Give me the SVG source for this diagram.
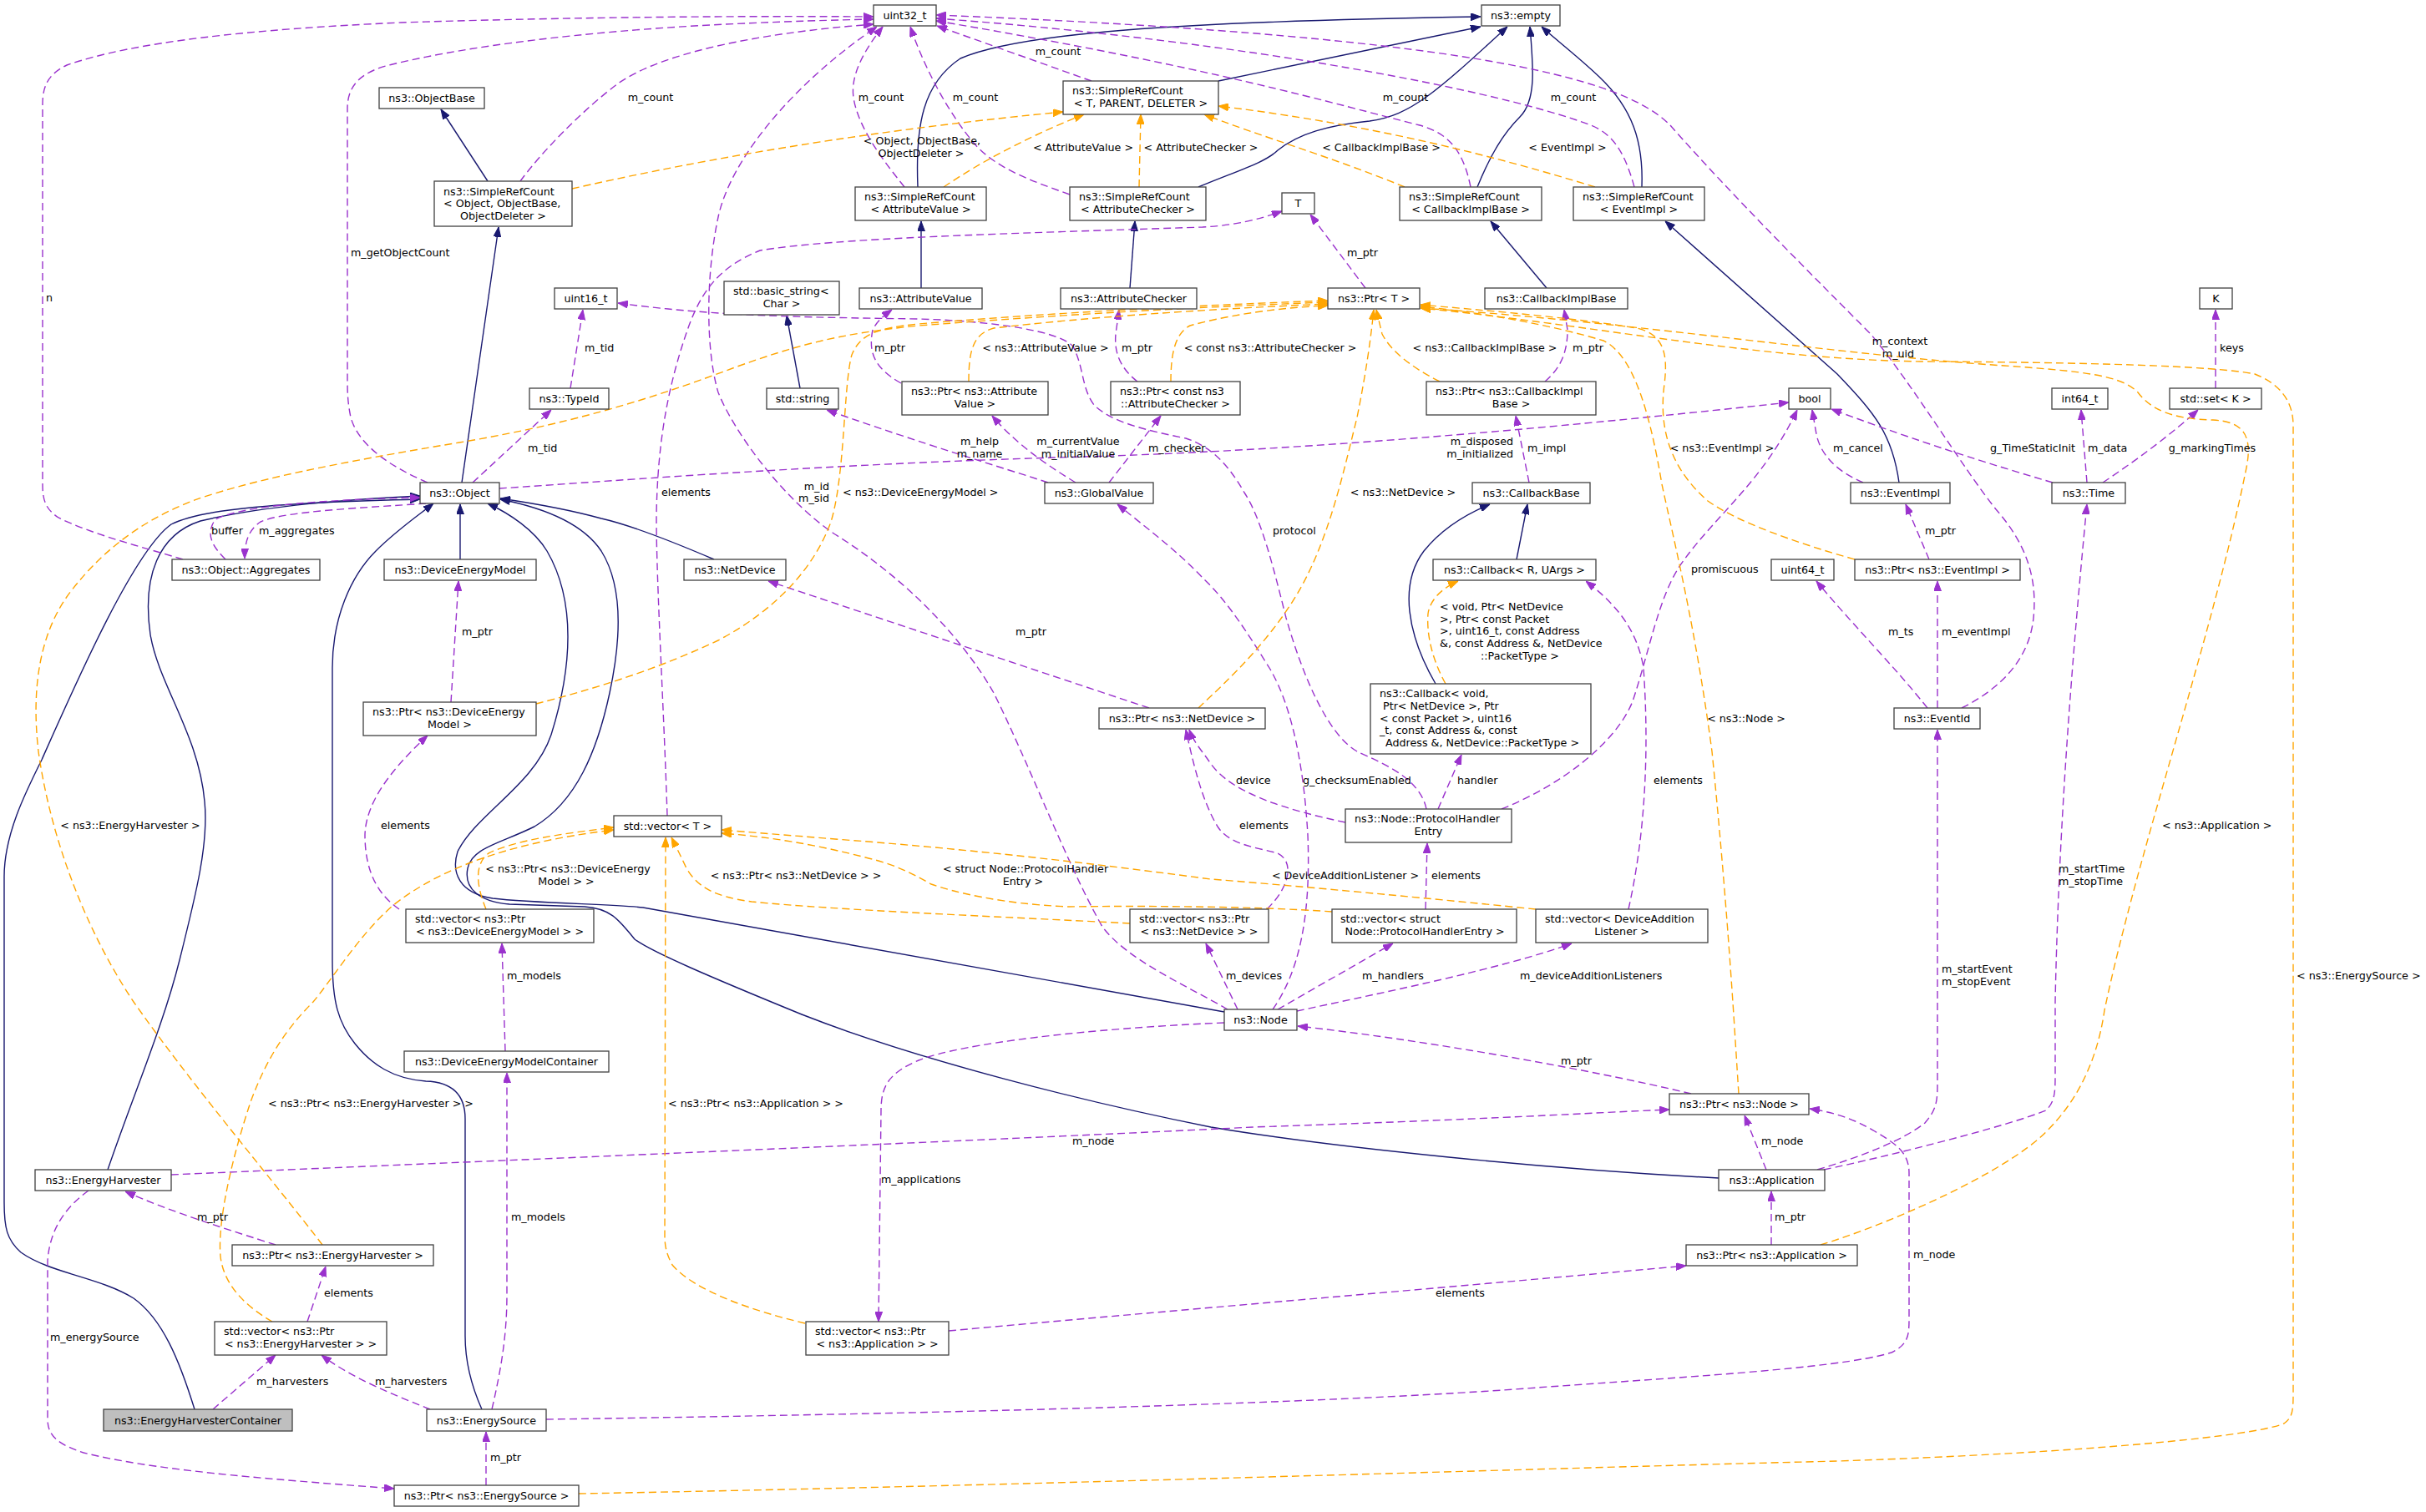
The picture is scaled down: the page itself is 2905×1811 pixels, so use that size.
<svg xmlns="http://www.w3.org/2000/svg" width="2905" height="1811" viewBox="0 0 2905 1811">
<style>
.node rect{fill:#fff;stroke:#404040;stroke-width:1.3}
.node rect.g{fill:#bfbfbf}
text{font-family:"DejaVu Sans","Liberation Sans",sans-serif;font-size:12.7px;fill:#000}
.c{text-anchor:middle}
.r{text-anchor:end}
.e path{fill:none}
.i{stroke:#191970;stroke-width:1.4;marker-end:url(#ai)}
.u{stroke:#9a32cd;stroke-width:1.4;stroke-dasharray:9,5;marker-end:url(#au)}
.t{stroke:#ffa500;stroke-width:1.4;stroke-dasharray:9,5;marker-end:url(#at)}
</style>
<defs>
<marker id="ai" viewBox="0 0 12 9" refX="12" refY="4.5" markerWidth="12" markerHeight="9" markerUnits="userSpaceOnUse" orient="auto"><path d="M0,0 L12,4.5 L0,9 z" fill="#191970" stroke="#191970" stroke-width="1"/></marker>
<marker id="au" viewBox="0 0 12 9" refX="12" refY="4.5" markerWidth="12" markerHeight="9" markerUnits="userSpaceOnUse" orient="auto"><path d="M0,0 L12,4.5 L0,9 z" fill="#9a32cd" stroke="#9a32cd" stroke-width="1"/></marker>
<marker id="at" viewBox="0 0 12 9" refX="12" refY="4.5" markerWidth="12" markerHeight="9" markerUnits="userSpaceOnUse" orient="auto"><path d="M0,0 L12,4.5 L0,9 z" fill="#ffa500" stroke="#ffa500" stroke-width="1"/></marker>
</defs>
<rect width="2905" height="1811" fill="#fff"/>
<g id="connectors" class="e">
<g id="inheritance">
<path class="i" d="M584,217 L528,131"/>
<path class="i" d="M553,578 L597,272"/>
<path class="i" d="M1099,224 C1096,150 1105,100 1150,70 C1220,40 1400,26 1773,20"/>
<path class="i" d="M1459,97 L1773,32"/>
<path class="i" d="M1435,224 C1480,205 1515,195 1530,180 C1555,160 1590,150 1640,145 C1690,138 1720,110 1805,32"/>
<path class="i" d="M1769,224 C1785,185 1800,160 1820,140 C1840,120 1836,80 1832,32"/>
<path class="i" d="M1966,224 C1968,170 1955,130 1915,92 C1890,68 1860,45 1846,32"/>
<path class="i" d="M1103,345 L1103,265"/>
<path class="i" d="M1353,345 L1359,265"/>
<path class="i" d="M958,465 L942,378"/>
<path class="i" d="M1852,345 L1785,265"/>
<path class="i" d="M2274,578 C2266,520 2245,495 2200,448 L1994,265"/>
<path class="i" d="M1816,670 L1829,604"/>
<path class="i" d="M1719,819 C1685,760 1675,700 1705,660 C1725,635 1750,618 1784,604"/>
<path class="i" d="M551,670 L551,604"/>
<path class="i" d="M855,670 C820,655 760,630 720,621 C680,610 640,603 599,597"/>
<path class="i" d="M129,1401 C160,1310 195,1230 215,1150 C235,1070 250,1010 245,960 C238,880 190,820 180,760 C170,690 190,640 240,624 C320,605 420,598 503,594"/>
<path class="i" d="M233,1688 C215,1630 195,1580 160,1555 C120,1530 60,1525 25,1500 C8,1485 5,1470 5,1440 L5,1050 C5,1000 30,950 50,910 C90,820 160,660 205,628 C240,610 330,602 503,598"/>
<path class="i" d="M577,1688 C560,1650 557,1620 557,1600 L557,1340 C557,1310 540,1296 510,1295 C470,1292 445,1275 425,1250 C405,1225 398,1200 398,1150 L398,800 C398,740 420,690 450,660 C475,635 500,618 519,603"/>
<path class="i" d="M1466,1212 L770,1087 C740,1083 640,1082 590,1076 C550,1070 540,1045 548,1020 C570,975 640,940 660,880 C685,800 690,720 655,660 C640,635 610,615 584,603"/>
<path class="i" d="M2058,1411 C1850,1400 1600,1375 1450,1350 C1300,1320 1100,1270 960,1215 C850,1170 780,1140 760,1125 C740,1100 730,1088 700,1086 L610,1083 C575,1080 555,1065 560,1040 C565,1015 600,1010 640,990 C690,960 715,900 730,830 C745,760 745,700 720,660 C700,630 660,610 599,598"/>
</g>
<g id="usage">
<path class="u" d="M219,670 C170,655 110,640 70,620 C55,610 51,600 51,580 L51,125 C51,100 60,88 80,78 C160,50 300,35 480,27 C700,20 900,19 1046,20"/>
<path class="u" d="M512,578 C470,560 430,535 420,500 C416,480 416,470 416,450 L416,130 C416,100 435,85 470,77 C560,55 700,38 850,30 C950,25 1000,24 1046,23"/>
<path class="u" d="M623,217 C650,180 700,130 740,100 C790,65 900,40 1046,29"/>
<path class="u" d="M1083,224 C1060,195 1028,155 1022,117 C1018,90 1035,60 1057,32"/>
<path class="u" d="M1281,233 C1230,215 1190,200 1165,170 C1140,140 1110,90 1090,32"/>
<path class="u" d="M1307,97 L1122,31"/>
<path class="u" d="M1761,224 C1752,180 1735,160 1700,150 C1600,125 1450,80 1121,25"/>
<path class="u" d="M1957,224 C1945,180 1930,160 1905,150 C1800,110 1500,50 1121,22"/>
<path class="u" d="M2349,848 C2395,825 2430,790 2435,740 C2440,690 2425,650 2390,610 C2350,560 2290,460 2240,400 C2180,340 2070,230 2000,150 C1950,100 1800,45 1121,18"/>
<path class="u" d="M799,977 C795,850 786,700 786,620 C787,530 800,460 825,390 C840,350 860,320 910,300 C1000,285 1200,280 1440,272 C1480,270 1510,262 1535,253"/>
<path class="u" d="M1470,1209 C1420,1180 1350,1150 1320,1110 C1280,1040 1230,910 1190,830 C1150,760 1080,690 1000,640 C940,600 880,520 860,470 C845,420 845,330 860,260 C875,190 950,100 1050,32"/>
<path class="u" d="M1079,459 C1045,440 1040,420 1045,395 C1050,385 1058,378 1068,371"/>
<path class="u" d="M1255,578 C1200,560 1100,530 990,491"/>
<path class="u" d="M1288,578 C1250,555 1215,530 1188,498"/>
<path class="u" d="M1328,578 L1390,498"/>
<path class="u" d="M1362,457 C1340,440 1334,420 1336,400 L1340,371"/>
<path class="u" d="M683,465 L698,371"/>
<path class="u" d="M566,578 L660,491"/>
<path class="u" d="M598,585 C750,575 1000,555 1300,547 C1600,538 1900,508 2142,482"/>
<path class="u" d="M510,603 C440,608 340,612 312,625 C297,635 293,650 293,669"/>
<path class="u" d="M270,670 C255,655 245,640 258,622 C290,605 400,598 503,596"/>
<path class="u" d="M540,841 L549,696"/>
<path class="u" d="M478,1089 C450,1070 437,1040 437,1000 C438,960 470,920 512,881"/>
<path class="u" d="M605,1259 L601,1130"/>
<path class="u" d="M589,1688 C600,1640 607,1600 607,1550 L607,1285"/>
<path class="u" d="M330,1491 C280,1475 200,1450 150,1427"/>
<path class="u" d="M368,1583 L390,1517"/>
<path class="u" d="M255,1688 L330,1623"/>
<path class="u" d="M515,1688 C470,1670 420,1650 385,1623"/>
<path class="u" d="M106,1426 C80,1445 60,1470 57,1510 L57,1700 C57,1720 70,1730 100,1740 C180,1760 300,1770 472,1783"/>
<path class="u" d="M582,1779 L582,1715"/>
<path class="u" d="M205,1407 C600,1390 1200,1365 1500,1350 C1800,1340 1900,1333 1999,1329"/>
<path class="u" d="M654,1700 C1000,1695 1500,1685 1800,1665 C2000,1650 2200,1640 2265,1620 C2285,1610 2286,1600 2286,1580 L2286,1405 C2286,1380 2270,1370 2245,1355 C2220,1340 2195,1332 2167,1328"/>
<path class="u" d="M1466,1225 C1300,1232 1150,1250 1100,1270 C1065,1285 1055,1300 1055,1330 L1052,1583"/>
<path class="u" d="M1136,1594 C1400,1570 1700,1545 2019,1516"/>
<path class="u" d="M2025,1310 C1900,1280 1700,1245 1554,1229"/>
<path class="u" d="M2115,1401 L2089,1336"/>
<path class="u" d="M2121,1491 L2121,1427"/>
<path class="u" d="M2176,1401 C2230,1385 2280,1365 2305,1345 C2318,1330 2320,1320 2320,1300 L2320,874"/>
<path class="u" d="M2184,1401 C2260,1385 2400,1350 2450,1330 C2460,1320 2461,1310 2461,1290 L2461,1200 C2465,1000 2480,800 2499,604"/>
<path class="u" d="M2308,848 C2270,800 2220,750 2175,696"/>
<path class="u" d="M2320,848 L2320,696"/>
<path class="u" d="M2310,670 L2282,604"/>
<path class="u" d="M2231,578 C2200,565 2180,545 2175,520 L2170,491"/>
<path class="u" d="M2458,578 C2380,555 2300,530 2193,490"/>
<path class="u" d="M2499,578 L2492,491"/>
<path class="u" d="M2518,578 C2560,550 2600,520 2632,491"/>
<path class="u" d="M2653,465 L2653,371"/>
<path class="u" d="M1798,969 C1870,940 1935,890 1955,840 C1975,780 1985,720 2010,680 C2050,620 2110,580 2152,491"/>
<path class="u" d="M1611,985 C1540,970 1475,950 1450,915 C1440,900 1430,890 1424,874"/>
<path class="u" d="M1722,969 L1750,904"/>
<path class="u" d="M1708,969 C1700,930 1650,912 1625,900 C1590,880 1560,810 1540,740 C1525,680 1510,620 1490,590 C1470,555 1450,535 1420,525 C1370,515 1330,505 1310,485 C1295,465 1298,440 1285,415 C1270,398 1200,385 1100,382 C950,380 850,378 740,363"/>
<path class="u" d="M1950,1089 C1970,1000 1975,900 1968,800 C1960,750 1930,720 1899,696"/>
<path class="u" d="M1482,1209 L1444,1130"/>
<path class="u" d="M1530,1209 L1668,1130"/>
<path class="u" d="M1553,1211 C1650,1190 1800,1160 1882,1130"/>
<path class="u" d="M1707,1089 L1709,1010"/>
<path class="u" d="M1517,1089 C1545,1062 1550,1032 1530,1022 C1505,1015 1472,1012 1458,990 C1440,960 1430,920 1420,874"/>
<path class="u" d="M1376,848 L920,696"/>
<path class="u" d="M1524,1209 C1555,1165 1570,1100 1566,1000 C1562,930 1550,850 1520,800 C1495,760 1470,720 1440,692 C1410,660 1370,630 1338,604"/>
<path class="u" d="M1850,457 C1870,440 1877,420 1877,395 L1873,371"/>
<path class="u" d="M1831,578 L1815,498"/>
<path class="u" d="M1635,345 L1569,257"/>
</g>
<g id="template">
<path class="t" d="M685,226 C800,200 1000,160 1273,134"/>
<path class="t" d="M1130,224 C1180,190 1240,160 1298,137"/>
<path class="t" d="M1364,224 L1366,137"/>
<path class="t" d="M1682,224 C1600,190 1500,160 1442,137"/>
<path class="t" d="M1910,224 C1800,190 1650,150 1459,127"/>
<path class="t" d="M1160,457 C1160,420 1165,400 1190,393 C1300,380 1450,370 1590,364"/>
<path class="t" d="M1402,457 C1402,430 1405,400 1425,390 C1480,375 1540,368 1590,366"/>
<path class="t" d="M1724,457 C1690,440 1665,420 1655,400 L1648,371"/>
<path class="t" d="M642,843 C700,828 780,805 860,767 C930,730 975,680 995,625 C1012,570 1010,460 1020,425 C1030,400 1050,393 1100,388 C1250,375 1450,365 1590,360"/>
<path class="t" d="M1435,848 C1470,815 1530,760 1565,690 C1595,630 1610,560 1625,500 C1635,450 1641,410 1645,371"/>
<path class="t" d="M386,1491 C340,1430 230,1300 160,1200 C100,1110 60,1000 46,900 C38,830 45,760 85,708 C130,650 180,620 230,600 C300,575 400,555 550,530 C700,505 800,470 880,440 C950,415 1000,400 1100,390 C1300,375 1450,367 1590,362"/>
<path class="t" d="M2221,670 C2150,650 2080,625 2045,600 C2005,565 1985,520 1993,460 C1998,420 1990,400 1960,393 C1880,380 1780,372 1701,365"/>
<path class="t" d="M2082,1310 C2078,1250 2070,1100 2050,900 C2030,750 2005,650 1990,580 C1975,490 1955,425 1920,408 C1860,390 1780,375 1701,367"/>
<path class="t" d="M2180,1491 C2250,1470 2380,1415 2440,1365 C2480,1330 2510,1280 2520,1210 C2560,1020 2650,760 2690,560 C2698,520 2685,505 2650,503 C2600,502 2575,490 2560,470 C2540,450 2500,445 2400,438 C2200,425 1950,385 1701,369"/>
<path class="t" d="M693,1789 C1200,1780 1800,1760 2200,1750 C2500,1740 2700,1720 2735,1705 C2745,1698 2746,1690 2746,1670 L2746,510 C2746,480 2730,460 2700,448 C2650,438 2500,434 2300,433 C2100,430 1900,388 1701,369"/>
<path class="t" d="M1731,819 C1715,790 1708,760 1710,735 C1712,720 1725,705 1746,696"/>
<path class="t" d="M582,1089 C570,1060 568,1035 585,1022 C620,1005 680,998 735,991"/>
<path class="t" d="M326,1583 C295,1565 268,1540 264,1505 C260,1460 280,1380 300,1320 C320,1265 345,1230 375,1200 C400,1170 430,1120 470,1085 C520,1045 600,1010 735,994"/>
<path class="t" d="M964,1585 C900,1570 830,1545 805,1515 C797,1500 796,1490 796,1480 L797,1003"/>
<path class="t" d="M1353,1106 C1200,1098 1000,1090 900,1080 C855,1074 835,1062 822,1040 C815,1025 810,1015 804,1003"/>
<path class="t" d="M1595,1092 C1500,1085 1350,1085 1280,1086 C1200,1083 1140,1068 1115,1059 C1090,1045 1070,1035 1040,1028 C980,1012 920,1002 864,998"/>
<path class="t" d="M1839,1089 C1750,1080 1600,1065 1450,1053 C1350,1040 1200,1020 1000,1005 C940,1000 900,997 864,994"/>
</g>
<g id="edge-labels">
<text x="55" y="361">n</text>
<text x="420" y="307">m_getObjectCount</text>
<text class="c" x="779" y="121">m_count</text>
<text class="c" x="1055" y="121">m_count</text>
<text class="c" x="1168" y="121">m_count</text>
<text class="c" x="1267" y="66">m_count</text>
<text class="c" x="1683" y="121">m_count</text>
<text class="c" x="1884" y="121">m_count</text>
<text class="c" x="1104" y="173">&lt; Object, ObjectBase,</text>
<text class="c" x="1103" y="188">ObjectDeleter &gt;</text>
<text class="c" x="1297" y="181">&lt; AttributeValue &gt;</text>
<text class="c" x="1438" y="181">&lt; AttributeChecker &gt;</text>
<text class="c" x="1654" y="181">&lt; CallbackImplBase &gt;</text>
<text class="c" x="1877" y="181">&lt; EventImpl &gt;</text>
<text x="1613" y="307">m_ptr</text>
<text x="700" y="421">m_tid</text>
<text x="1047" y="421">m_ptr</text>
<text class="c" x="1252" y="421">&lt; ns3::AttributeValue &gt;</text>
<text x="1343" y="421">m_ptr</text>
<text class="c" x="1521" y="421">&lt; const ns3::AttributeChecker &gt;</text>
<text class="c" x="1778" y="421">&lt; ns3::CallbackImplBase &gt;</text>
<text x="1883" y="421">m_ptr</text>
<text class="c" x="2275" y="413">m_context</text>
<text class="c" x="2273" y="428">m_uid</text>
<text x="2658" y="421">keys</text>
<text x="632" y="541">m_tid</text>
<text class="c" x="1173" y="533">m_help</text>
<text class="c" x="1173" y="548">m_name</text>
<text class="c" x="1291" y="533">m_currentValue</text>
<text class="c" x="1291" y="548">m_initialValue</text>
<text x="1375" y="541">m_checker</text>
<text class="r" x="1812" y="533">m_disposed</text>
<text class="r" x="1812" y="548">m_initialized</text>
<text x="1829" y="541">m_impl</text>
<text class="c" x="2062" y="541">&lt; ns3::EventImpl &gt;</text>
<text x="2195" y="541">m_cancel</text>
<text class="c" x="2434" y="541">g_TimeStaticInit</text>
<text x="2500" y="541">m_data</text>
<text class="c" x="2649" y="541">g_markingTimes</text>
<text x="792" y="594">elements</text>
<text class="r" x="993" y="587">m_id</text>
<text class="r" x="993" y="601">m_sid</text>
<text x="1009" y="594">&lt; ns3::DeviceEnergyModel &gt;</text>
<text class="c" x="1680" y="594">&lt; ns3::NetDevice &gt;</text>
<text x="253" y="640">buffer</text>
<text x="310" y="640">m_aggregates</text>
<text x="1524" y="640">protocol</text>
<text x="2305" y="640">m_ptr</text>
<text x="2025" y="686">promiscuous</text>
<text x="1724" y="731">&lt; void, Ptr&lt; NetDevice</text>
<text x="1724" y="746">&gt;, Ptr&lt; const Packet</text>
<text x="1724" y="760">&gt;, uint16_t, const Address</text>
<text x="1724" y="775">&amp;, const Address &amp;, NetDevice</text>
<text class="c" x="1820" y="790">::PacketType &gt;</text>
<text x="553" y="761">m_ptr</text>
<text x="1216" y="761">m_ptr</text>
<text x="2261" y="761">m_ts</text>
<text x="2325" y="761">m_eventImpl</text>
<text class="c" x="2091" y="865">&lt; ns3::Node &gt;</text>
<text x="1480" y="939">device</text>
<text x="1560" y="939">g_checksumEnabled</text>
<text x="1745" y="939">handler</text>
<text x="1980" y="939">elements</text>
<text class="c" x="156" y="993">&lt; ns3::EnergyHarvester &gt;</text>
<text x="456" y="993">elements</text>
<text x="1484" y="993">elements</text>
<text x="2589" y="993">&lt; ns3::Application &gt;</text>
<text class="c" x="680" y="1045">&lt; ns3::Ptr&lt; ns3::DeviceEnergy</text>
<text class="c" x="678" y="1060">Model &gt; &gt;</text>
<text class="c" x="953" y="1053">&lt; ns3::Ptr&lt; ns3::NetDevice &gt; &gt;</text>
<text class="c" x="1228" y="1045">&lt; struct Node::ProtocolHandler</text>
<text class="c" x="1225" y="1060">Entry &gt;</text>
<text class="c" x="1611" y="1053">&lt; DeviceAdditionListener &gt;</text>
<text x="1714" y="1053">elements</text>
<text x="2465" y="1045">m_startTime</text>
<text x="2465" y="1060">m_stopTime</text>
<text x="2325" y="1165">m_startEvent</text>
<text x="2325" y="1180">m_stopEvent</text>
<text x="607" y="1173">m_models</text>
<text x="1468" y="1173">m_devices</text>
<text x="1631" y="1173">m_handlers</text>
<text x="1820" y="1173">m_deviceAdditionListeners</text>
<text x="2750" y="1173">&lt; ns3::EnergySource &gt;</text>
<text x="1869" y="1275">m_ptr</text>
<text class="c" x="444" y="1326">&lt; ns3::Ptr&lt; ns3::EnergyHarvester &gt; &gt;</text>
<text x="800" y="1326">&lt; ns3::Ptr&lt; ns3::Application &gt; &gt;</text>
<text x="1284" y="1371">m_node</text>
<text x="2109" y="1371">m_node</text>
<text x="1055" y="1417">m_applications</text>
<text x="236" y="1462">m_ptr</text>
<text x="612" y="1462">m_models</text>
<text x="2125" y="1462">m_ptr</text>
<text x="2291" y="1507">m_node</text>
<text x="388" y="1553">elements</text>
<text x="1719" y="1553">elements</text>
<text x="60" y="1606">m_energySource</text>
<text x="307" y="1659">m_harvesters</text>
<text x="449" y="1659">m_harvesters</text>
<text x="587" y="1750">m_ptr</text>
</g>
</g>
<g id="nodes">
<g id="n_uint32" class="node"><rect x="1046" y="6" width="75" height="25"/><text class="c" x="1083.5" y="23">uint32_t</text></g>
<g id="n_empty" class="node"><rect x="1774" y="6" width="94" height="25"/><text class="c" x="1821" y="23">ns3::empty</text></g>
<g id="n_objbase" class="node"><rect x="454" y="105" width="126" height="25"/><text class="c" x="517" y="122">ns3::ObjectBase</text></g>
<g id="n_srctpd" class="node"><rect x="1273" y="97" width="186" height="40"/><text x="1284" y="113">ns3::SimpleRefCount</text><text class="c" x="1366" y="128">&lt; T, PARENT, DELETER &gt;</text></g>
<g id="n_srcobj" class="node"><rect x="520" y="217" width="165" height="54"/><text x="531" y="233.5">ns3::SimpleRefCount</text><text x="531" y="248">&lt; Object, ObjectBase,</text><text class="c" x="602.5" y="262.5">ObjectDeleter &gt;</text></g>
<g id="n_srcav" class="node"><rect x="1024" y="224" width="157" height="40"/><text x="1035" y="240">ns3::SimpleRefCount</text><text class="c" x="1102.5" y="255">&lt; AttributeValue &gt;</text></g>
<g id="n_srcac" class="node"><rect x="1281" y="224" width="163" height="40"/><text x="1292" y="240">ns3::SimpleRefCount</text><text class="c" x="1362.5" y="255">&lt; AttributeChecker &gt;</text></g>
<g id="n_T" class="node"><rect x="1535" y="231" width="39" height="25"/><text class="c" x="1554.5" y="248">T</text></g>
<g id="n_srccib" class="node"><rect x="1676" y="224" width="170" height="40"/><text x="1687" y="240">ns3::SimpleRefCount</text><text class="c" x="1761" y="255">&lt; CallbackImplBase &gt;</text></g>
<g id="n_srcei" class="node"><rect x="1884" y="224" width="157" height="40"/><text x="1895" y="240">ns3::SimpleRefCount</text><text class="c" x="1962.5" y="255">&lt; EventImpl &gt;</text></g>
<g id="n_uint16" class="node"><rect x="664" y="345" width="75" height="25"/><text class="c" x="701.5" y="362">uint16_t</text></g>
<g id="n_bstr" class="node"><rect x="867" y="337" width="138" height="40"/><text x="878" y="353">std::basic_string&lt;</text><text class="c" x="936" y="368">Char &gt;</text></g>
<g id="n_av" class="node"><rect x="1029" y="345" width="147" height="25"/><text class="c" x="1102.5" y="362">ns3::AttributeValue</text></g>
<g id="n_ac" class="node"><rect x="1270" y="345" width="163" height="25"/><text class="c" x="1351.5" y="362">ns3::AttributeChecker</text></g>
<g id="n_ptrT" class="node"><rect x="1590" y="345" width="110" height="25"/><text class="c" x="1645" y="362">ns3::Ptr&lt; T &gt;</text></g>
<g id="n_cib" class="node"><rect x="1778" y="345" width="171" height="25"/><text class="c" x="1863.5" y="362">ns3::CallbackImplBase</text></g>
<g id="n_K" class="node"><rect x="2634" y="345" width="39" height="25"/><text class="c" x="2653.5" y="362">K</text></g>
<g id="n_typeid" class="node"><rect x="634" y="465" width="95" height="25"/><text class="c" x="681.5" y="482">ns3::TypeId</text></g>
<g id="n_string" class="node"><rect x="918" y="465" width="86" height="25"/><text class="c" x="961" y="482">std::string</text></g>
<g id="n_ptrav" class="node"><rect x="1080" y="457" width="175" height="40"/><text x="1091" y="473">ns3::Ptr&lt; ns3::Attribute</text><text class="c" x="1167.5" y="488">Value &gt;</text></g>
<g id="n_ptrac" class="node"><rect x="1330" y="457" width="155" height="40"/><text x="1341" y="473">ns3::Ptr&lt; const ns3</text><text class="c" x="1407.5" y="488">::AttributeChecker &gt;</text></g>
<g id="n_ptrcib" class="node"><rect x="1708" y="457" width="203" height="40"/><text x="1719" y="473">ns3::Ptr&lt; ns3::CallbackImpl</text><text class="c" x="1809.5" y="488">Base &gt;</text></g>
<g id="n_bool" class="node"><rect x="2142" y="465" width="50" height="25"/><text class="c" x="2167" y="482">bool</text></g>
<g id="n_int64" class="node"><rect x="2457" y="465" width="67" height="25"/><text class="c" x="2490.5" y="482">int64_t</text></g>
<g id="n_set" class="node"><rect x="2598" y="465" width="110" height="25"/><text class="c" x="2653" y="482">std::set&lt; K &gt;</text></g>
<g id="n_object" class="node"><rect x="503" y="578" width="95" height="25"/><text class="c" x="550.5" y="595">ns3::Object</text></g>
<g id="n_gv" class="node"><rect x="1251" y="578" width="130" height="25"/><text class="c" x="1316" y="595">ns3::GlobalValue</text></g>
<g id="n_cbbase" class="node"><rect x="1763" y="578" width="141" height="25"/><text class="c" x="1833.5" y="595">ns3::CallbackBase</text></g>
<g id="n_eventimpl" class="node"><rect x="2216" y="578" width="119" height="25"/><text class="c" x="2275.5" y="595">ns3::EventImpl</text></g>
<g id="n_time" class="node"><rect x="2457" y="578" width="88" height="25"/><text class="c" x="2501" y="595">ns3::Time</text></g>
<g id="n_aggr" class="node"><rect x="206" y="670" width="177" height="25"/><text class="c" x="294.5" y="687">ns3::Object::Aggregates</text></g>
<g id="n_dem" class="node"><rect x="460" y="670" width="182" height="25"/><text class="c" x="551" y="687">ns3::DeviceEnergyModel</text></g>
<g id="n_netdev" class="node"><rect x="819" y="670" width="122" height="25"/><text class="c" x="880" y="687">ns3::NetDevice</text></g>
<g id="n_cbru" class="node"><rect x="1716" y="670" width="195" height="25"/><text class="c" x="1813.5" y="687">ns3::Callback&lt; R, UArgs &gt;</text></g>
<g id="n_uint64" class="node"><rect x="2121" y="670" width="75" height="25"/><text class="c" x="2158.5" y="687">uint64_t</text></g>
<g id="n_ptrei" class="node"><rect x="2221" y="670" width="198" height="25"/><text class="c" x="2320" y="687">ns3::Ptr&lt; ns3::EventImpl &gt;</text></g>
<g id="n_ptrdem" class="node"><rect x="435" y="841" width="207" height="40"/><text x="446" y="857">ns3::Ptr&lt; ns3::DeviceEnergy</text><text class="c" x="538.5" y="872">Model &gt;</text></g>
<g id="n_ptrnd" class="node"><rect x="1316" y="848" width="199" height="25"/><text class="c" x="1415.5" y="865">ns3::Ptr&lt; ns3::NetDevice &gt;</text></g>
<g id="n_cbvoid" class="node"><rect x="1641" y="819" width="264" height="84"/><text x="1652" y="835">ns3::Callback&lt; void,</text><text x="1656" y="850">Ptr&lt; NetDevice &gt;, Ptr</text><text x="1652" y="864.5">&lt; const Packet &gt;, uint16</text><text x="1652" y="879">_t, const Address &amp;, const</text><text class="c" x="1775" y="894">Address &amp;, NetDevice::PacketType &gt;</text></g>
<g id="n_eventid" class="node"><rect x="2268" y="848" width="103" height="25"/><text class="c" x="2319.5" y="865">ns3::EventId</text></g>
<g id="n_phe" class="node"><rect x="1611" y="969" width="199" height="40"/><text x="1622" y="985">ns3::Node::ProtocolHandler</text><text class="c" x="1710.5" y="1000">Entry</text></g>
<g id="n_vecT" class="node"><rect x="735" y="977" width="129" height="25"/><text class="c" x="799.5" y="994">std::vector&lt; T &gt;</text></g>
<g id="n_vecdem" class="node"><rect x="486" y="1089" width="225" height="40"/><text x="497" y="1105">std::vector&lt; ns3::Ptr</text><text class="c" x="598.5" y="1120">&lt; ns3::DeviceEnergyModel &gt; &gt;</text></g>
<g id="n_vecnd" class="node"><rect x="1353" y="1089" width="166" height="40"/><text x="1364" y="1105">std::vector&lt; ns3::Ptr</text><text class="c" x="1436" y="1120">&lt; ns3::NetDevice &gt; &gt;</text></g>
<g id="n_vecphe" class="node"><rect x="1595" y="1089" width="221" height="40"/><text x="1605" y="1105">std::vector&lt; struct</text><text class="c" x="1706" y="1120">Node::ProtocolHandlerEntry &gt;</text></g>
<g id="n_vecdal" class="node"><rect x="1839" y="1089" width="206" height="40"/><text x="1850" y="1105">std::vector&lt; DeviceAddition</text><text class="c" x="1942" y="1120">Listener &gt;</text></g>
<g id="n_node" class="node"><rect x="1466" y="1209" width="87" height="25"/><text class="c" x="1509.5" y="1226">ns3::Node</text></g>
<g id="n_demc" class="node"><rect x="484" y="1259" width="245" height="25"/><text class="c" x="606.5" y="1276">ns3::DeviceEnergyModelContainer</text></g>
<g id="n_ptrnode" class="node"><rect x="1999" y="1310" width="167" height="25"/><text class="c" x="2082.5" y="1327">ns3::Ptr&lt; ns3::Node &gt;</text></g>
<g id="n_eh" class="node"><rect x="42" y="1401" width="163" height="25"/><text class="c" x="123.5" y="1418">ns3::EnergyHarvester</text></g>
<g id="n_app" class="node"><rect x="2058" y="1401" width="127" height="25"/><text class="c" x="2121.5" y="1418">ns3::Application</text></g>
<g id="n_ptreh" class="node"><rect x="278" y="1491" width="241" height="25"/><text class="c" x="398.5" y="1508">ns3::Ptr&lt; ns3::EnergyHarvester &gt;</text></g>
<g id="n_ptrapp" class="node"><rect x="2019" y="1491" width="205" height="25"/><text class="c" x="2121.5" y="1508">ns3::Ptr&lt; ns3::Application &gt;</text></g>
<g id="n_veceh" class="node"><rect x="257" y="1583" width="206" height="40"/><text x="268" y="1599">std::vector&lt; ns3::Ptr</text><text class="c" x="360" y="1614">&lt; ns3::EnergyHarvester &gt; &gt;</text></g>
<g id="n_vecapp" class="node"><rect x="965" y="1583" width="171" height="40"/><text x="976" y="1599">std::vector&lt; ns3::Ptr</text><text class="c" x="1050.5" y="1614">&lt; ns3::Application &gt; &gt;</text></g>
<g id="n_ehc" class="node"><rect class="g" x="124" y="1688" width="226" height="26"/><text class="c" x="237" y="1705.5">ns3::EnergyHarvesterContainer</text></g>
<g id="n_es" class="node"><rect x="511" y="1688" width="143" height="26"/><text class="c" x="582.5" y="1705.5">ns3::EnergySource</text></g>
<g id="n_ptres" class="node"><rect x="472" y="1779" width="221" height="25"/><text class="c" x="582.5" y="1796">ns3::Ptr&lt; ns3::EnergySource &gt;</text></g>
</g>
</svg>
